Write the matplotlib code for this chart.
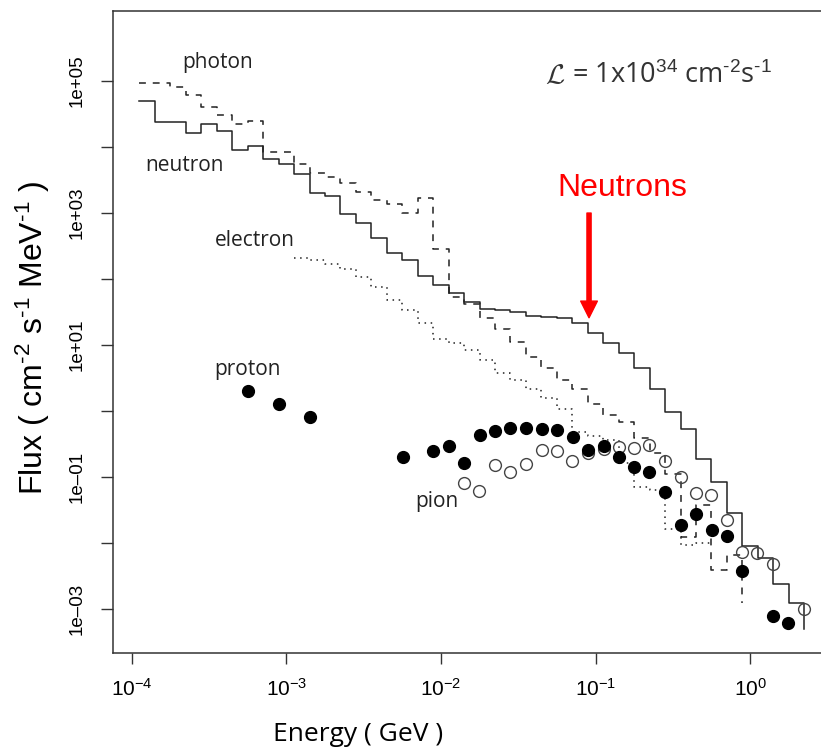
import numpy as np
import matplotlib.pyplot as plt

plt.rcParams['mathtext.fontset'] = 'custom'
plt.rcParams['mathtext.rm'] = 'Liberation Sans'
plt.rcParams['mathtext.it'] = 'Liberation Sans:italic'
plt.rcParams['mathtext.bf'] = 'Liberation Sans:bold'

# bin edges (GeV), 10 bins per decade
energy_edges = [1.122e-4, 1.413e-4, 1.778e-4, 2.239e-4, 2.818e-4, 3.548e-4, 4.467e-4, 5.623e-4, 7.079e-4, 8.913e-4,
                1.122e-3, 1.413e-3, 1.778e-3, 2.239e-3, 2.818e-3, 3.548e-3, 4.467e-3, 5.623e-3, 7.079e-3, 8.913e-3,
                1.122e-2, 1.413e-2, 1.778e-2, 2.239e-2, 2.818e-2, 3.548e-2, 4.467e-2, 5.623e-2, 7.079e-2, 8.913e-2,
                1.122e-1, 1.413e-1, 1.778e-1, 2.239e-1, 2.818e-1, 3.548e-1, 4.467e-1, 5.623e-1, 7.079e-1, 8.913e-1,
                1.122, 1.413, 1.778, 2.239]

# neutron flux, starts at edge 0
neutron_flux = [4.97e4, 2.34e4, 2.4e4, 1.6e4, 2.18e4, 1.73e4, 8.9e3, 1.03e4, 6.5e3, 5.4e3,
                3.8e3, 1.97e3, 1.79e3, 955, 705, 414, 243, 192, 111, 80,
                60, 44.9, 34.8, 33.6, 31, 27.5, 26.6, 25.1, 21.5, 15.2,
                10.7, 7.4, 4.5, 2.13, 0.966, 0.53, 0.184, 0.082, 0.0279, 0.009,
                0.0059, 0.00237, 0.00123, 4.9e-4]

# photon flux, starts at edge 0
photon_flux = [9.1e4, 9.1e4, 8.0e4, 6.1e4, 4.0e4, 3.0e4, 2.18e4, 2.48e4, 8.4e3, 8.4e3,
               5.4e3, 4.0e3, 3.5e3, 2.85e3, 2.08e3, 1.56e3, 1.35e3, 1.0e3, 1.69e3, 279,
               53, 41.4, 25.1, 17.3, 11.1, 6.45, 4.49, 2.92, 2.13, 1.25,
               0.86, 0.667, 0.382, 0.231, 0.11, 0.0123, 0.037, 0.00385, 0.0065, 0.0012]

# electron flux, starts at edge 10
electron_flux = [206, 192, 167, 140, 106, 75, 47.5,
                 33.6, 21.5, 12.1, 10.7, 8.3, 5.87, 3.69, 2.92, 2.11, 1.54,
                 1.06, 0.48, 0.414, 0.36, 0.16, 0.069, 0.063, 0.016, 0.0092, 0.0098,
                 0.0098]

proton_e = [5.62e-4, 9.0e-4, 1.42e-3, 5.66e-3, 8.93e-3, 1.13e-2, 1.42e-2, 1.78e-2, 2.24e-2, 2.81e-2,
            3.55e-2, 4.48e-2, 5.61e-2, 7.1e-2, 8.95e-2, 0.113, 0.142, 0.178, 0.223, 0.282,
            0.356, 0.445, 0.565, 0.706, 0.887, 1.41, 1.77]
proton_flux = [2.01, 1.25, 0.794, 0.197, 0.248, 0.295, 0.16, 0.436, 0.492, 0.556,
               0.541, 0.525, 0.515, 0.396, 0.254, 0.297, 0.197, 0.142, 0.117, 0.0593,
               0.0185, 0.0272, 0.0158, 0.0126, 0.00373, 7.75e-4, 6.18e-4]

pion_e = [1.42e-2, 1.77e-2, 2.24e-2, 2.8e-2, 3.55e-2, 4.48e-2, 5.61e-2, 7.08e-2, 8.9e-2, 0.113,
          0.141, 0.178, 0.223, 0.282, 0.356, 0.445, 0.558, 0.706, 0.887, 1.11,
          1.40, 2.24]
pion_flux = [0.0794, 0.0614, 0.150, 0.117, 0.156, 0.254, 0.245, 0.173, 0.226, 0.263,
             0.279, 0.272, 0.302, 0.173, 0.1, 0.0573, 0.0528, 0.0221, 0.00723, 0.00698,
             0.00472, 9.9e-4]

fig = plt.figure(figsize=(8.21, 7.5), dpi=100)
ax = fig.add_axes([113 / 821, 1 - 653 / 750, 709 / 821, 642.3 / 750])
ax.set_xscale('log')
ax.set_yscale('log')

lc = '#222222'
ax.step(energy_edges[:len(neutron_flux)], neutron_flux, where='post', color=lc, lw=1.1)
ax.step(energy_edges[:len(photon_flux)], photon_flux, where='post', color=lc, lw=1.1,
        dashes=(4.5, 4.5))
ax.step(energy_edges[10:10 + len(electron_flux)], electron_flux, where='post', color=lc,
        lw=1.1, dashes=(1, 3))

ax.plot(pion_e, pion_flux, 'o', ms=8.5, mfc='none', mec='#444444', mew=1.0)
ax.plot(proton_e, proton_flux, 'o', ms=8.5, mfc='black', mec='black')

ax.set_xlim(10 ** -4.121, 10 ** 0.465)
ax.set_ylim(10 ** -3.671, 10 ** 6.061)

# ticks
xt = [1e-4, 1e-3, 1e-2, 1e-1, 1e0]
ax.set_xticks(xt)
ax.set_xticklabels([r'$10^{-4}$', r'$10^{-3}$', r'$10^{-2}$', r'$10^{-1}$', r'$10^{0}$'],
                   fontsize=15)
yt = [1e-3, 1e-2, 1e-1, 1e0, 1e1, 1e2, 1e3, 1e4, 1e5]
ax.set_yticks(yt)
ax.set_yticklabels(['1e\u201303', '', '1e\u201301', '', '1e+01', '', '1e+03', '', '1e+05'],
                   fontsize=13.5, family='Liberation Sans', rotation=90, va='center')
ax.minorticks_off()
ax.tick_params(axis='x', direction='out', length=8, width=1, pad=10, color='#333333')
ax.tick_params(axis='y', direction='out', length=9, width=1, pad=11, color='#333333')
for s in ax.spines.values():
    s.set_color('#333333')
    s.set_linewidth(1.1)

ax.set_xlabel('Energy ( GeV )', fontsize=19, family='Open Sans')
ax.xaxis.set_label_coords(0.345, -0.127)
ax.xaxis.label.set_va('center')
ax.set_ylabel('Flux ( cm$^{\u20102}$ s$^{\u20101}$ MeV$^{\u20101}$ )', fontsize=23,
              family='Liberation Sans')
ax.yaxis.set_label_coords(-0.113, 0.49)
ax.yaxis.label.set_va('center')

tf = 'Open Sans'
ax.text(3.61e-4, 1.92e5, 'photon', fontsize=15, family=tf, ha='center', va='center', color='#222')
ax.text(2.21e-4, 5.28e3, 'neutron', fontsize=15, family=tf, ha='center', va='center', color='#222')
ax.text(6.28e-4, 385, 'electron', fontsize=15, family=tf, ha='center', va='center', color='#222')
ax.text(5.65e-4, 4.14, 'proton', fontsize=15, family=tf, ha='center', va='center', color='#222')
ax.text(9.44e-3, 0.0414, 'pion', fontsize=15, family=tf, ha='center', va='center', color='#222')

lum = ax.text(0.0471, 1.22e5, r'$\mathcal{L}$', math_fontfamily='cm', fontsize=20,
              ha='left', va='center', color='#333')
ax.annotate(' = 1x10$^{34}$ cm$^{\u20102}$s$^{\u20101}$', xy=(1, 0.45), xycoords=lum,
            fontsize=19.5, family=tf, ha='left', va='center', color='#333')

ax.text(0.148, 2366, 'Neutrons', fontsize=23, family='Liberation Sans', color='#ff0000',
        ha='center', va='center')
ax.annotate('', xy=(0.0908, 25.6), xytext=(0.0908, 989),
            arrowprops=dict(color='#ff0000', width=3, headwidth=12, headlength=12, shrink=0))

fig.savefig('out.png', dpi=100)
